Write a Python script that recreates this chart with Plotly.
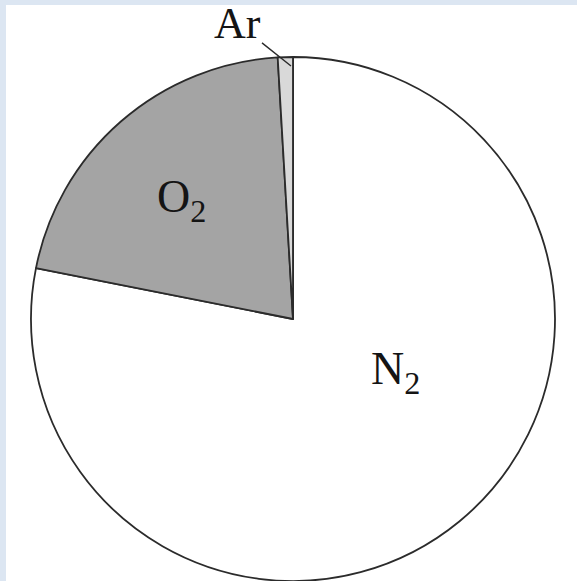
import plotly.graph_objects as go

# composition of dry air, % by volume
gases = ["N2", "O2", "Ar"]
shares = [78.08, 20.95, 0.93]
slice_colors = ["#ffffff", "#a4a4a4", "#d9d9d9"]

W, H = 577, 581


def px(x, y):
    # pixel position -> paper coords
    return x / W, (H - y) / H


fig = go.Figure()

fig.add_trace(
    go.Pie(
        labels=gases,
        values=shares,
        sort=False,
        direction="clockwise",
        rotation=0,
        textinfo="none",
        hoverinfo="skip",
        showlegend=False,
        marker=dict(colors=slice_colors, line=dict(color="#2b2b2b", width=1.8)),
        domain=dict(x=[31 / W, 555 / W], y=[0, 524 / H]),
    )
)

serif = dict(family="Liberation Serif, Times New Roman, serif", size=46, color="#141414")

ox, oy = px(155, 200)
nx, ny = px(422, 372)
ax_, ay_ = px(291, 66)

fig.update_layout(
    width=W,
    height=H,
    margin=dict(l=0, r=0, t=0, b=0),
    paper_bgcolor="#dce6f2",
    shapes=[
        # white canvas inside the light blue frame
        dict(type="rect", xref="paper", yref="paper", x0=6 / W, x1=1, y0=0, y1=(H - 5) / H,
             fillcolor="white", line=dict(width=0), layer="below"),
    ],
    annotations=[
        dict(text="O<sub>2</sub>", x=ox, y=oy, xref="paper", yref="paper",
             showarrow=False, font=serif),
        dict(text="N<sub>2</sub>", x=nx, y=ny, xref="paper", yref="paper",
             showarrow=False, font=serif),
        dict(text="Ar", x=ax_, y=ay_, xref="paper", yref="paper",
             showarrow=True, arrowhead=0, arrowwidth=1.4, arrowcolor="#2b2b2b",
             ax=-54, ay=-43, font=dict(serif, size=44)),
    ],
)

# page body has a default margin; drop it so the figure sits at 0,0
fig.write_html(
    "out.html",
    config={"displayModeBar": False},
    post_script="document.body.style.margin='0';",
)
